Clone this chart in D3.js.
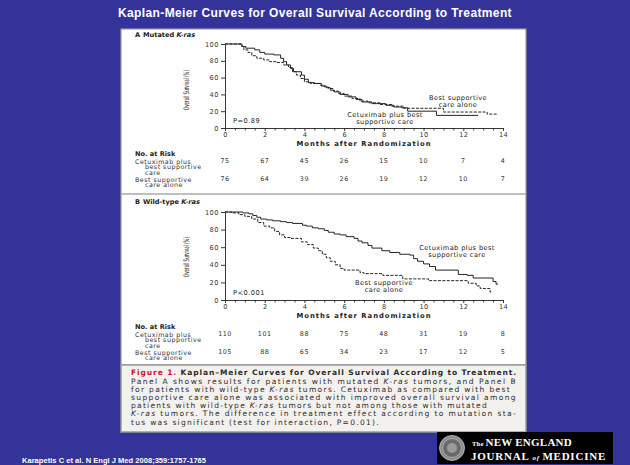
<!DOCTYPE html>
<html><head><meta charset="utf-8">
<script src="https://cdn.jsdelivr.net/npm/d3@7"></script>
<style>html,body{margin:0;padding:0;background:#333399;overflow:hidden}svg{display:block}</style>
</head><body><svg id="c" width="630" height="465"></svg>
<script>
// ---- data -------------------------------------------------------------
const monthTicks = [0, 2, 4, 6, 8, 10, 12, 14];
const monthMinorTicks = [0.5,1,1.5,2.5,3,3.5,4.5,5,5.5,6.5,7,7.5,8.5,9,9.5,10.5,11,11.5,12.5,13,13.5];
const survivalTicks = [0, 20, 40, 60, 80, 100];

// Panel A – mutated K-ras: [month, overall survival %] step points
const mutCetuximab = [[0,100],[0.85,97],[1.05,95],[1.5,93],[1.75,90],[2.0,88],[2.45,87],[2.8,83],[2.95,79],[3.1,75],[3.3,71],[3.45,67],[3.85,63],[4.0,58],[4.2,54],[4.5,53],[4.85,50],[5.1,48],[5.3,45],[5.5,43],[5.8,40],[6.2,37],[6.6,34],[6.9,31],[7.4,29],[8.1,27],[8.5,25],[8.9,24],[9.2,20],[10.65,15],[12.75,15]];
const mutBsc = [[0,100],[0.85,97],[0.95,93],[1.15,90],[1.35,86],[1.6,83],[1.95,81],[2.25,79],[2.6,78],[2.95,75],[3.2,72],[3.4,67],[3.6,63],[3.8,59],[4.0,55],[4.3,53],[4.8,51],[5.0,49],[5.2,47],[5.45,44],[5.7,41],[6.0,38],[6.4,35],[6.8,32],[7.2,30],[7.8,28],[8.4,26],[9.0,23.5],[11.0,19],[13.2,16.5],[13.7,16.5]];
const mutRiskCetuximab = [75, 67, 45, 26, 15, 10, 7, 4];
const mutRiskBsc = [76, 64, 39, 26, 19, 12, 10, 7];

// Panel B – wild-type K-ras
const wtCetuximab = [[0,100],[0.9,99],[1.2,98],[1.4,96],[1.6,94],[1.8,92],[2.1,91],[2.4,90],[2.8,89],[3.1,88],[3.4,87],[3.9,85],[4.1,84],[4.4,82],[4.7,81],[5.0,79],[5.2,77],[5.5,75],[5.8,74],[6.1,72],[6.5,70],[6.7,67],[6.9,65],[7.2,62],[7.4,59],[7.9,56],[8.3,54],[8.8,52],[9.3,51],[9.5,47],[9.7,44],[10.0,41],[10.3,38],[10.6,34],[11.75,29],[12.2,28],[12.5,25],[13.5,21],[13.65,18],[13.75,18]];
const wtBsc = [[0,100],[0.35,99],[0.7,97],[1.0,95],[1.35,92],[1.65,88],[1.95,84],[2.25,82],[2.5,78],[2.75,74],[3.0,71],[3.3,70],[3.85,66],[4.15,63],[4.45,59],[4.7,56],[4.9,52],[5.1,48],[5.3,44],[5.55,40],[5.8,36],[6.0,34],[6.8,31],[7.0,30],[7.95,28],[8.95,24],[10.25,22],[12.25,19],[12.65,16],[12.85,13],[13.35,9],[13.45,9]];
const wtRiskCetuximab = [110, 101, 88, 75, 48, 31, 19, 8];
const wtRiskBsc = [105, 88, 65, 34, 23, 17, 12, 5];

const riskRowLabels = [["Cetuximab plus", "best supportive", "care"], ["Best supportive", "care alone"]];

// ---- drawing ----------------------------------------------------------
const F = "'DejaVu Sans', 'Noto Sans', sans-serif";
const svg = d3.select("#c");

function fit(sel, target) {
  sel.each(function () {
    const w = this.getComputedTextLength();
    const n = this.textContent.length;
    d3.select(this).attr("letter-spacing", ((target - w) / n).toFixed(3));
  });
}

svg.append("rect").attr("width", 630).attr("height", 465).attr("fill", "#333399");

// slide title
svg.append("text").attr("x", 315).attr("y", 17).attr("text-anchor", "middle")
  .attr("font-family", "'Liberation Sans', Arial, sans-serif").attr("font-weight", "bold")
  .attr("font-size", 12).attr("fill", "#fff")
  .text("Kaplan-Meier Curves for Overall Survival According to Treatment")
  .call(fit, 394);

// figure frame and caption box
svg.append("rect").attr("x", 121).attr("y", 29).attr("width", 405).attr("height", 336)
  .attr("fill", "#fff").attr("stroke", "#9a9a9a").attr("stroke-width", 1.2);
svg.append("rect").attr("x", 121).attr("y", 365).attr("width", 405).attr("height", 67)
  .attr("fill", "#f3f1ed").attr("stroke", "#9a9a9a").attr("stroke-width", 1.5);
svg.append("line").attr("x1", 121).attr("x2", 526).attr("y1", 194).attr("y2", 194)
  .attr("stroke", "#a8a8a8").attr("stroke-width", 1.3);

const x = d3.scaleLinear().domain([0, 14]).range([225, 503]);
const line = (y) => d3.line().x(d => x(d[0])).y(d => y(d[1])).curve(d3.curveStepAfter);

function panel(cfg) {
  const g = svg.append("g").attr("font-family", F).attr("fill", "#222");
  const y = d3.scaleLinear().domain([0, 100]).range([cfg.yBottom, cfg.yTop]);

  // panel heading
  const h = g.append("text").attr("x", 135).attr("y", cfg.head).attr("dominant-baseline", "central")
    .attr("font-size", 6.6).attr("font-weight", "bold");
  h.append("tspan").text(cfg.letter);
  h.append("tspan").attr("x", 143).text(cfg.heading + " ");
  h.append("tspan").attr("font-style", "italic").text("K-ras");

  // y axis
  const ya = g.append("g").attr("transform", `translate(${x(0)},0)`)
    .call(d3.axisLeft(y).tickValues(survivalTicks).tickSize(4).tickPadding(2).tickSizeOuter(0));
  ya.selectAll("text").attr("font-family", F).attr("font-size", 6.6).attr("fill", "#333")
    .attr("letter-spacing", 0.5);
  ya.selectAll("line,path").attr("stroke", "#222").attr("stroke-width", 0.9);

  // x axis
  const xa = g.append("g").attr("transform", `translate(0,${cfg.yBottom})`)
    .call(d3.axisBottom(x).tickValues(monthTicks).tickSize(3).tickPadding(1.3).tickSizeOuter(0));
  xa.selectAll("text").attr("font-family", F).attr("font-size", 6.6).attr("fill", "#333")
    .attr("letter-spacing", 0.3);
  xa.selectAll("line,path").attr("stroke", "#222").attr("stroke-width", 0.9);
  const xm = g.append("g").attr("transform", `translate(0,${cfg.yBottom})`)
    .call(d3.axisBottom(x).tickValues(monthMinorTicks).tickSize(2.5).tickFormat("").tickSizeOuter(0));
  xm.select("path").remove();
  xm.selectAll("line").attr("stroke", "#222").attr("stroke-width", 0.8);

  // y-axis title
  g.append("text").attr("transform", `translate(186,${cfg.yLabel}) rotate(-90)`)
    .attr("text-anchor", "middle").attr("dominant-baseline", "central")
    .attr("font-size", 7.6).attr("textLength", 40).attr("lengthAdjust", "spacingAndGlyphs")
    .text("Overall Survival (%)");

  // survival curves
  g.append("path").datum(cfg.bsc).attr("d", line(y)).attr("fill", "none")
    .attr("stroke", "#1a1a1a").attr("stroke-width", 0.95).attr("stroke-dasharray", "3,1.4");
  g.append("path").datum(cfg.cetux).attr("d", line(y)).attr("fill", "none")
    .attr("stroke", "#1a1a1a").attr("stroke-width", 0.95);

  // P value
  g.append("text").attr("x", 233).attr("y", cfg.pY).attr("dominant-baseline", "central")
    .attr("font-size", 6.6).attr("letter-spacing", 0.5).text(cfg.p);

  // curve labels
  cfg.labels.forEach(l => {
    l.lines.forEach((t, i) => {
      g.append("text").attr("x", l.x).attr("y", l.y + i * 7.4).attr("text-anchor", "middle")
        .attr("dominant-baseline", "central").attr("font-size", 6.6).attr("letter-spacing", 0.4)
        .text(t);
    });
  });

  // x-axis title
  g.append("text").attr("x", 364).attr("y", cfg.yBottom + 16).attr("text-anchor", "middle")
    .attr("dominant-baseline", "central").attr("font-size", 6.8).attr("font-weight", "bold")
    .text("Months after Randomization").call(fit, 135);

  // numbers at risk
  g.append("text").attr("x", 135).attr("y", cfg.risk).attr("dominant-baseline", "central")
    .attr("font-size", 6.6).attr("font-weight", "bold").text("No. at Risk");
  const rows = [cfg.riskC, cfg.riskB];
  rows.forEach((vals, r) => {
    const ry = cfg.risk + (r === 0 ? 7 : 25);
    riskRowLabels[r].forEach((t, i) => {
      g.append("text").attr("x", i === 0 ? 135 : 145).attr("y", ry + i * 5.8)
        .attr("dominant-baseline", "central").attr("font-size", 6.3).attr("letter-spacing", 0.5)
        .attr("fill", "#333").text(t);
    });
    g.selectAll(null).data(vals).enter().append("text")
      .attr("x", (d, i) => x(monthTicks[i])).attr("y", ry)
      .attr("text-anchor", "middle").attr("dominant-baseline", "central")
      .attr("font-size", 6.4).attr("letter-spacing", 0.5).attr("fill", "#333")
      .text(d => d);
  });
}

panel({
  letter: "A", heading: "Mutated", head: 35, yTop: 44, yBottom: 128, yLabel: 90,
  cetux: mutCetuximab, bsc: mutBsc, p: "P=0.89", pY: 121,
  labels: [
    { x: 458, y: 98, lines: ["Best supportive", "care alone"] },
    { x: 385, y: 115, lines: ["Cetuximab plus best", "supportive care"] }
  ],
  risk: 154, riskC: mutRiskCetuximab, riskB: mutRiskBsc
});

panel({
  letter: "B", heading: "Wild-type", head: 202, yTop: 212, yBottom: 300, yLabel: 257,
  cetux: wtCetuximab, bsc: wtBsc, p: "P<0.001", pY: 293,
  labels: [
    { x: 457, y: 248, lines: ["Cetuximab plus best", "supportive care"] },
    { x: 384, y: 283, lines: ["Best supportive", "care alone"] }
  ],
  risk: 327, riskC: wtRiskCetuximab, riskB: wtRiskBsc
});

// caption
const captionLines = [
  { w: 386, parts: [["Figure 1. ", "r"], ["Kaplan\u2013Meier Curves for Overall Survival According to Treatment.", "b"]] },
  { w: 386, parts: [["Panel A shows results for patients with mutated ", ""], ["K-ras", "i"], [" tumors, and Panel B", ""]] },
  { w: 380, parts: [["for patients with wild-type ", ""], ["K-ras", "i"], [" tumors. Cetuximab as compared with best", ""]] },
  { w: 386, parts: [["supportive care alone was associated with improved overall survival among", ""]] },
  { w: 357, parts: [["patients with wild-type ", ""], ["K-ras", "i"], [" tumors but not among those with mutated", ""]] },
  { w: 386, parts: [["K-ras", "i"], [" tumors. The difference in treatment effect according to mutation sta-", ""]] },
  { w: 249, parts: [["tus was significant (test for interaction, P=0.01).", ""]] }
];
captionLines.forEach((ln, i) => {
  const t = svg.append("text").attr("x", 131).attr("y", 372.3 + i * 8.2)
    .attr("dominant-baseline", "central").attr("font-family", F).attr("font-size", 7.5)
    .attr("fill", "#2a2a2a");
  ln.parts.forEach(([s, st]) => {
    const sp = t.append("tspan").text(s);
    if (st === "r") sp.attr("fill", "#d0102a").attr("font-weight", "bold");
    if (st === "b") sp.attr("font-weight", "bold");
    if (st === "i") sp.attr("font-style", "italic");
  });
  t.call(fit, ln.w);
});

// journal logo
const lg = svg.append("g");
lg.append("rect").attr("x", 437).attr("y", 432).attr("width", 176).attr("height", 32).attr("fill", "#000");
lg.append("circle").attr("cx", 452).attr("cy", 448).attr("r", 12.5).attr("fill", "#8c8c8c").attr("stroke", "#c8c8c8").attr("stroke-width", 0.8);
lg.append("circle").attr("cx", 452).attr("cy", 448).attr("r", 9.5).attr("fill", "#6a6a6a").attr("stroke", "#b5b5b5").attr("stroke-width", 0.8);
lg.append("circle").attr("cx", 452).attr("cy", 448).attr("r", 5).attr("fill", "#9a9a9a");
const serif = "'Liberation Serif', 'DejaVu Serif', serif";
const l1 = lg.append("text").attr("x", 472).attr("y", 446).attr("font-family", serif)
  .attr("font-weight", "bold").attr("fill", "#fff").attr("font-size", 11);
l1.append("tspan").attr("font-size", 6.5).text("The ");
l1.append("tspan").text("NEW ENGLAND");
l1.call(fit, 100);
const l2 = lg.append("text").attr("x", 471).attr("y", 460).attr("font-family", serif)
  .attr("font-weight", "bold").attr("fill", "#fff").attr("font-size", 11);
l2.append("tspan").text("JOURNAL ");
l2.append("tspan").attr("font-size", 7).attr("font-style", "italic").text("of ");
l2.append("tspan").text("MEDICINE");
l2.call(fit, 135);

// citation
svg.append("text").attr("x", 22).attr("y", 463).attr("font-family", "'Liberation Sans', Arial, sans-serif")
  .attr("font-weight", "bold").attr("font-size", 7.5).attr("fill", "#fff")
  .text("Karapetis C et al. N Engl J Med 2008;359:1757-1765").call(fit, 184);
</script></body></html>
